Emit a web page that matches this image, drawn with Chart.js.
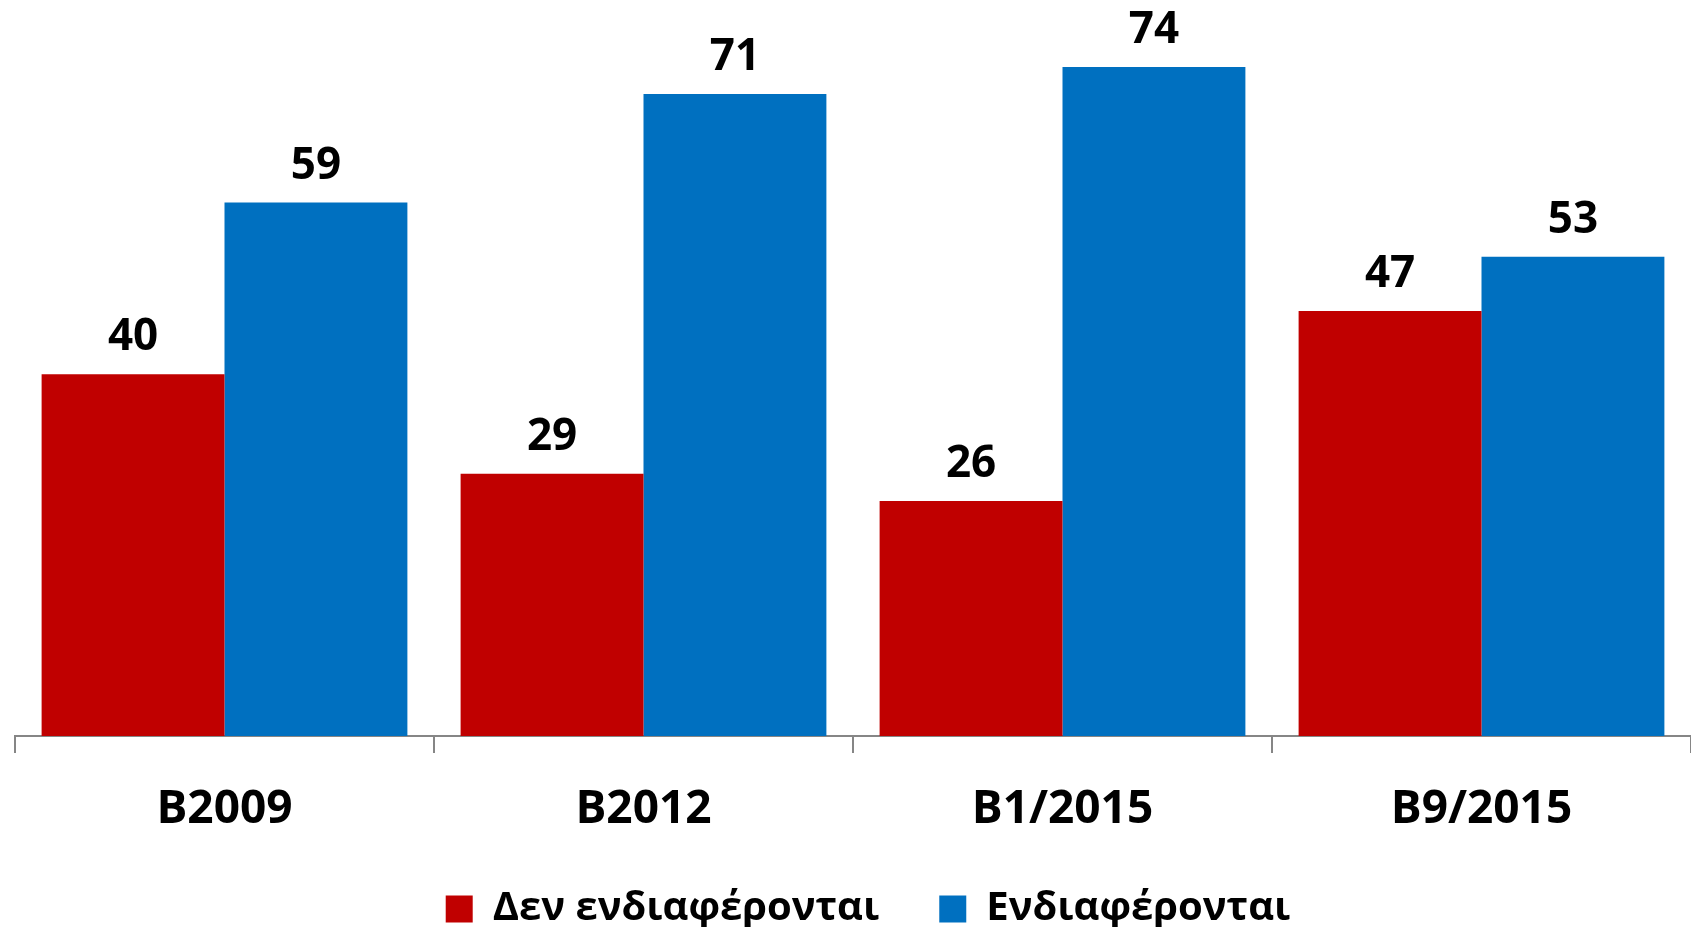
<!DOCTYPE html>
<html>
<head>
<meta charset="utf-8">
<script src="https://cdn.jsdelivr.net/npm/chart.js@4.4.1/dist/chart.umd.min.js"></script>
<style>
    html, body { margin: 0; padding: 0; background: #FFFFFF; overflow: hidden; }
    #wrap { width: 1691px; height: 927px; position: relative; }
</style>
</head>
<body>
<div id="wrap"><canvas id="interestChart"></canvas></div>
<script>
// Data
const categories = ['B2009', 'B2012', 'B1/2015', 'B9/2015'];
const notInterested = [40, 29, 26, 47];
const interested = [59, 71, 74, 53];
const seriesNames = ['Δεν ενδιαφέρονται', 'Ενδιαφέρονται'];

const FONT = "'Open Sans', 'Noto Sans', sans-serif";

// Value labels above each bar
const barLabels = {
    id: 'barLabels',
    afterDatasetsDraw(chart) {
        const ctx = chart.ctx;
        ctx.save();
        ctx.font = 'bold 44px ' + FONT;
        ctx.fillStyle = '#000000';
        ctx.textAlign = 'center';
        ctx.textBaseline = 'alphabetic';
        chart.data.datasets.forEach((ds, i) => {
            chart.getDatasetMeta(i).data.forEach((bar, j) => {
                ctx.fillText(ds.data[j], bar.x, bar.y - 24);
            });
        });
        ctx.restore();
    }
};

// Fix the legend box height, then nudge it into place
const legendPlace = {
    id: 'legendPlace',
    afterInit(chart) {
        const legend = chart.legend;
        if (!legend) return;
        const fit = legend.fit.bind(legend);
        legend.fit = function() {
            fit();
            this.height = 91;
        };
    },
    afterLayout(chart) {
        const legend = chart.legend;
        if (!legend) return;
        legend.left += 15;
        legend.right += 15;
        legend.top -= 7;
    }
};

const ctx = document.getElementById('interestChart').getContext('2d');
new Chart(ctx, {
    type: 'bar',
    data: {
        labels: categories,
        datasets: [{
            label: seriesNames[0],
            data: notInterested,
            backgroundColor: '#C00000',
            categoryPercentage: 0.873,
            barPercentage: 1.0
        }, {
            label: seriesNames[1],
            data: interested,
            backgroundColor: '#0070C0',
            categoryPercentage: 0.873,
            barPercentage: 1.0
        }]
    },
    options: {
        responsive: true,
        maintainAspectRatio: false,
        animation: false,
        layout: {
            padding: { left: 15, right: 0, top: 0, bottom: 0 }
        },
        plugins: {
            legend: {
                position: 'bottom',
                labels: {
                    color: '#000000',
                    font: { family: FONT, size: 40, weight: 'bold' },
                    boxWidth: 27,
                    boxHeight: 27,
                    padding: 60
                }
            },
            tooltip: { enabled: false }
        },
        scales: {
            x: {
                afterFit(scale) {
                    scale.height = 100;
                },
                border: { display: true, color: '#868686', width: 2 },
                grid: {
                    display: true,
                    offset: true,
                    drawOnChartArea: false,
                    drawTicks: true,
                    tickLength: 17,
                    color: '#868686',
                    lineWidth: 2
                },
                ticks: {
                    color: '#000000',
                    font: { family: FONT, size: 46, weight: 'bold' },
                    padding: 29
                }
            },
            y: {
                display: false,
                min: 0,
                max: 81.4
            }
        }
    },
    plugins: [barLabels, legendPlace]
});
</script>
</body>
</html>
